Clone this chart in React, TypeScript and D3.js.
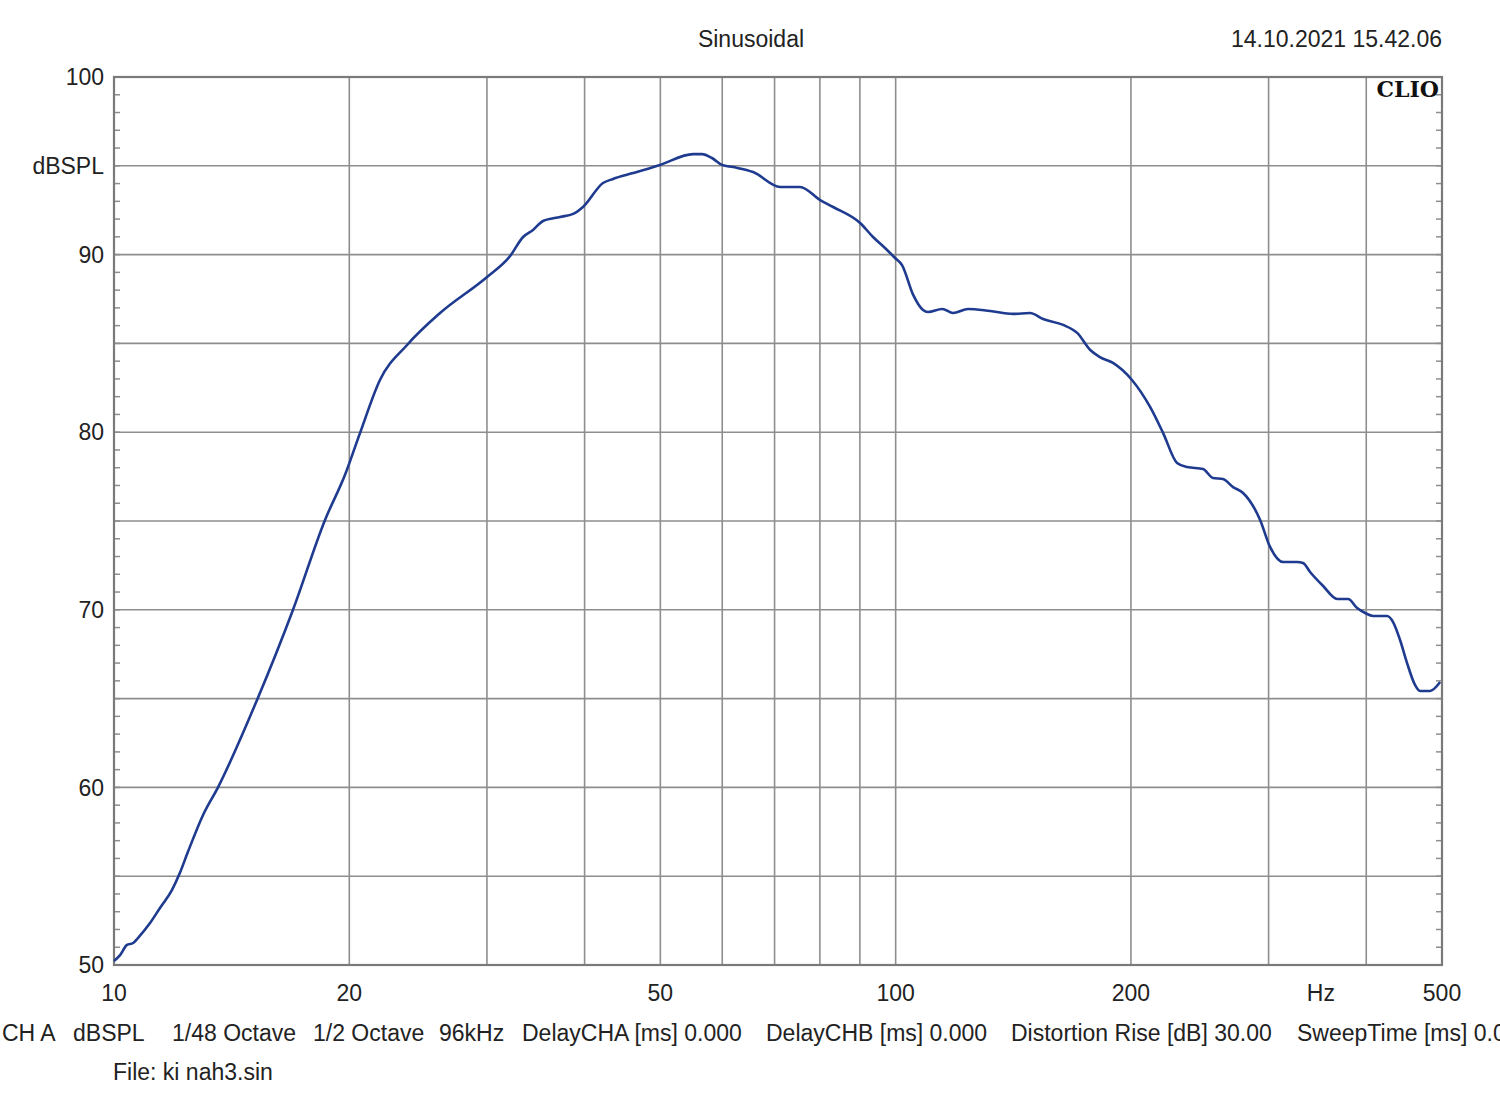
import React from "react";
import * as d3 from "d3";

const freqHz = [10.0, 10.18, 10.39, 10.58, 10.73, 11.12, 11.45, 11.86, 12.14, 12.43, 13.0, 13.59, 15.24, 16.94, 18.62, 19.75, 20.64, 21.89, 23.71, 26.13, 30.01, 32.12, 33.37, 34.36, 35.39, 37.21, 38.67, 39.81, 42.23, 43.49, 46.13, 49.95, 55.06, 56.53, 58.22, 59.97, 61.94, 65.71, 71.15, 75.46, 80.06, 83.18, 90.05, 93.56, 97.5, 99.82, 101.9, 105.3, 108.4, 110.0, 114.7, 118.4, 123.8, 132.1, 141.3, 148.6, 154.4, 163.8, 170.7, 177.4, 182.5, 189.7, 200.6, 211.6, 219.9, 229.1, 236.0, 247.3, 254.7, 262.3, 270.2, 278.3, 292.6, 301.3, 313.1, 326.3, 332.0, 339.0, 352.3, 367.1, 379.2, 389.4, 398.7, 408.1, 425.3, 432.9, 441.9, 451.1, 461.8, 468.6, 482.7, 497.3];
const splDb = [50.23, 50.56, 51.13, 51.24, 51.52, 52.36, 53.21, 54.22, 55.18, 56.36, 58.45, 60.02, 64.92, 69.99, 75.06, 77.6, 79.95, 82.94, 84.91, 86.71, 88.74, 89.92, 90.99, 91.39, 91.89, 92.12, 92.29, 92.68, 94.03, 94.26, 94.59, 95.05, 95.66, 95.66, 95.44, 95.05, 94.93, 94.65, 93.81, 93.81, 93.07, 92.68, 91.78, 90.99, 90.26, 89.81, 89.41, 87.73, 86.88, 86.77, 86.94, 86.71, 86.94, 86.82, 86.66, 86.71, 86.37, 86.04, 85.59, 84.63, 84.23, 83.9, 82.94, 81.42, 79.95, 78.27, 78.04, 77.93, 77.42, 77.36, 76.91, 76.58, 75.06, 73.54, 72.69, 72.69, 72.64, 72.13, 71.34, 70.61, 70.61, 70.1, 69.82, 69.65, 69.65, 69.31, 68.3, 67.0, 65.77, 65.43, 65.43, 65.93];

const xGridHz = [10, 20, 30, 40, 50, 60, 70, 80, 90, 100, 200, 300, 400, 500];
const xTickLabels = [
  { v: 10, t: "10" },
  { v: 20, t: "20" },
  { v: 50, t: "50" },
  { v: 100, t: "100" },
  { v: 200, t: "200" },
  { v: 350, t: "Hz" },
  { v: 500, t: "500" },
];
const yGridDb = [50, 55, 60, 65, 70, 75, 80, 85, 90, 95, 100];
const yTickLabels = [
  { v: 100, t: "100" },
  { v: 95, t: "dBSPL" },
  { v: 90, t: "90" },
  { v: 80, t: "80" },
  { v: 70, t: "70" },
  { v: 60, t: "60" },
  { v: 50, t: "50" },
];
const infoItems = [
  { x: 2, t: "CH A" },
  { x: 73, t: "dBSPL" },
  { x: 172, t: "1/48 Octave" },
  { x: 313, t: "1/2 Octave" },
  { x: 439, t: "96kHz" },
  { x: 522, t: "DelayCHA [ms] 0.000" },
  { x: 766, t: "DelayCHB [ms] 0.000" },
  { x: 1011, t: "Distortion Rise [dB] 30.00" },
  { x: 1297, t: "SweepTime [ms] 0.000" },
];

const L = 114, R = 1442, T = 77, B = 965;

export default function App() {
  const x = d3.scaleLog().domain([10, 500]).range([L, R]);
  const y = d3.scaleLinear().domain([50, 100]).range([B, T]);
  const pts = freqHz.map((f, i) => [f, splDb[i]] as [number, number]);
  const line = d3.line<[number, number]>().x(d => x(d[0])).y(d => y(d[1])).curve(d3.curveMonotoneX);
  const minor = d3.range(51, 100);
  const font = "'Liberation Sans', Arial, sans-serif";
  const grid = "#8e8e8e";
  const fs = 23;
  return (
    <svg width={1500} height={1110} style={{ position: "absolute", left: 0, top: 0, background: "#fff" }} fontFamily={font}>
      <rect x={0} y={0} width={1500} height={1110} fill="#fff" />
      {yGridDb.map(v => (
        <line key={"hy" + v} x1={L} x2={R} y1={y(v)} y2={y(v)} stroke={grid} strokeWidth={1.6} />
      ))}
      {xGridHz.map(v => (
        <line key={"vx" + v} x1={x(v)} x2={x(v)} y1={T} y2={B} stroke={grid} strokeWidth={1.6} />
      ))}
      {minor.map(v => (
        <g key={"m" + v}>
          <line x1={L} x2={L + 6} y1={y(v)} y2={y(v)} stroke={grid} strokeWidth={1.5} />
          <line x1={R - 6} x2={R} y1={y(v)} y2={y(v)} stroke={grid} strokeWidth={1.5} />
        </g>
      ))}
      <rect x={L} y={T} width={R - L} height={B - T} fill="none" stroke="#7a7a7a" strokeWidth={2.2} />
      <path d={line(pts) || ""} fill="none" stroke="#1f3b8f" strokeWidth={2.6} strokeLinejoin="round" />
      {yTickLabels.map(d => (
        <text key={"yl" + d.t} x={104} y={y(d.v)} dy="0.36em" textAnchor="end" fontSize={fs} fill="#222">{d.t}</text>
      ))}
      {xTickLabels.map(d => (
        <text key={"xl" + d.t} x={x(d.v)} y={1001} textAnchor="middle" fontSize={fs} fill="#222">{d.t}</text>
      ))}
      {infoItems.map(d => (
        <text key={"i" + d.t} x={d.x} y={1041} fontSize={fs} fill="#222">{d.t}</text>
      ))}
      <text x={113} y={1080} fontSize={fs} fill="#222">File: ki nah3.sin</text>
      <text x={751} y={47} textAnchor="middle" fontSize={fs} fill="#222">Sinusoidal</text>
      <text x={1442} y={47} textAnchor="end" fontSize={fs} fill="#222">14.10.2021 15.42.06</text>
      <text x={1439} y={97} textAnchor="end" fontSize={22} fontWeight="bold" fontFamily="'DejaVu Serif', 'Liberation Serif', serif" fill="#111">CLIO</text>
    </svg>
  );
}
